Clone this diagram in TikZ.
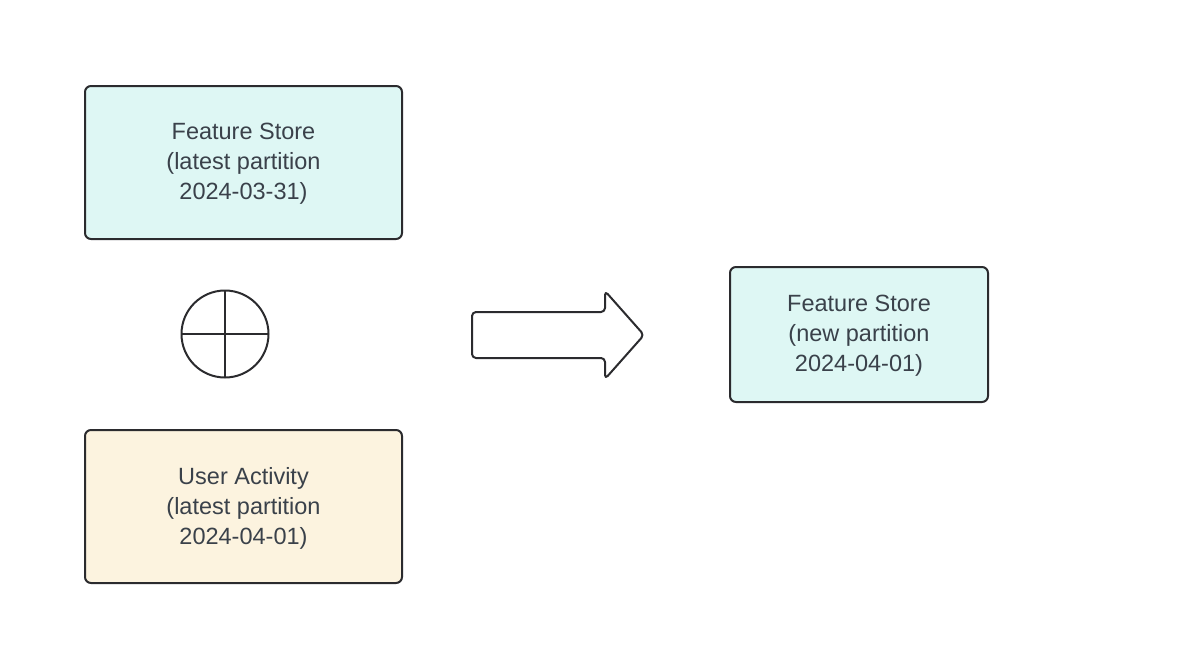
\documentclass[tikz,border=0pt]{standalone}
\usepackage{fontspec}
\setmainfont{Liberation Sans}
\usetikzlibrary{calc}
\definecolor{tealfill}{HTML}{DEF7F4}
\definecolor{creamfill}{HTML}{FCF3DF}
\definecolor{edge}{HTML}{2B2B2E}
\definecolor{txt}{HTML}{3A414A}
\tikzset{
  box/.style={draw=edge, line width=2pt, rounded corners=6pt},
  lbl/.style={text=txt, align=center, font=\fontsize{23.5}{30}\selectfont, inner sep=0pt},
  shp/.style={draw=edge, line width=2pt}
}
\begin{document}
\begin{tikzpicture}[x=1pt,y=-1pt]
\useasboundingbox (0,0) rectangle (1192,656);
% top box
\draw[box, fill=tealfill] (85,86) rectangle (402,239);
\node[lbl] (fs1) at (243.5,164) {Feature Store\\(latest partition\\2024-03-31)};
% bottom box
\draw[box, fill=creamfill] (85,430) rectangle (402,583);
\node[lbl] (ua) at (243.5,508) {User Activity\\(latest partition\\2024-04-01)};
% right box
\draw[box, fill=tealfill] (730,267) rectangle (988,402);
\node[lbl] (fs2) at (859,336) {Feature Store\\(new partition\\2024-04-01)};
% plus circle
\coordinate (pc) at (225,334);
\draw[shp] (pc) circle (43.5pt);
\draw[shp] ($(pc)+(-43.5,0)$) -- ($(pc)+(43.5,0)$);
\draw[shp] ($(pc)+(0,-43.5)$) -- ($(pc)+(0,43.5)$);
% block arrow
\draw[shp, rounded corners=4pt, line join=round] (472,312) -- (605,312) -- (605,291) -- (644,335) -- (605,379) -- (605,358) -- (472,358) -- cycle;
\end{tikzpicture}
\end{document}
